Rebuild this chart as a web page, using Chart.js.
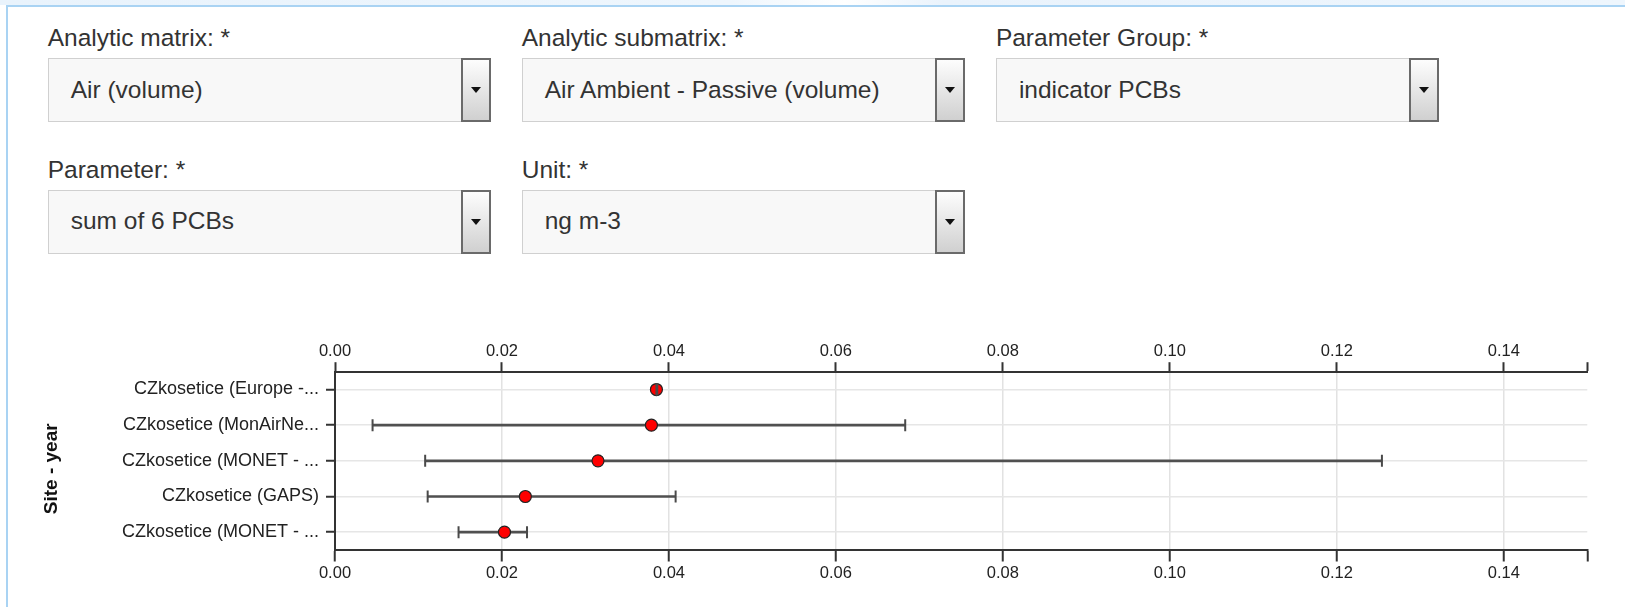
<!DOCTYPE html>
<html>
<head>
<meta charset="utf-8">
<script src="https://cdn.jsdelivr.net/npm/chart.js@4.4.1/dist/chart.umd.min.js"></script>
<style>
html,body{margin:0;padding:0;background:#fff;}
body{width:1625px;height:607px;position:relative;overflow:hidden;font-family:"Liberation Sans",Arial,sans-serif;}
#topband{position:absolute;left:0;top:0;width:1625px;height:5px;background:linear-gradient(to right,#e9f3fc 0%,#eef6fd 45%,#ffffff 52%,#eaf3fc 58%,#eef6fd 100%);}
#topline{position:absolute;left:6px;top:5px;width:1619px;height:2px;background:#a9d3f3;}
#leftline{position:absolute;left:6px;top:5px;width:2px;height:602px;background:#a9d3f3;}
.lbl{position:absolute;font-size:24.5px;line-height:1;color:#333;white-space:nowrap;}
.sel{position:absolute;height:64px;width:443.5px;box-sizing:border-box;border:1px solid #d0d0d0;background:#f8f8f8;}
.sel .val{position:absolute;left:22px;top:0;bottom:0;display:flex;align-items:center;font-size:24.5px;line-height:1;color:#333;white-space:nowrap;}
.sel .btn{position:absolute;right:-1px;top:-1px;bottom:-1px;width:30px;box-sizing:border-box;border:2px solid #6a6a6a;background:linear-gradient(#fdfdfd,#d0d0d0);}
.sel .btn:after{content:"";position:absolute;left:50%;top:50%;margin-left:-5px;margin-top:-3px;border-left:5px solid transparent;border-right:5px solid transparent;border-top:6px solid #111;}
#wrap{position:absolute;left:0;top:300px;width:1625px;height:307px;}
</style>
</head>
<body>
<div id="topband"></div>
<div id="topline"></div>
<div id="leftline"></div>

<div class="lbl" style="left:47.7px;top:26px;">Analytic matrix: *</div>
<div class="lbl" style="left:521.7px;top:26px;">Analytic submatrix: *</div>
<div class="lbl" style="left:995.9px;top:26px;">Parameter Group: *</div>
<div class="sel" style="left:47.7px;top:58px;"><div class="val">Air (volume)</div><div class="btn"></div></div>
<div class="sel" style="left:521.7px;top:58px;"><div class="val">Air Ambient - Passive (volume)</div><div class="btn"></div></div>
<div class="sel" style="left:995.9px;top:58px;"><div class="val">indicator PCBs</div><div class="btn"></div></div>

<div class="lbl" style="left:47.7px;top:157.6px;">Parameter: *</div>
<div class="lbl" style="left:521.7px;top:157.6px;">Unit: *</div>
<div class="sel" style="left:47.7px;top:189.6px;"><div class="val">sum of 6 PCBs</div><div class="btn"></div></div>
<div class="sel" style="left:521.7px;top:189.6px;"><div class="val">ng m-3</div><div class="btn"></div></div>

<div id="wrap"><canvas id="c"></canvas></div>

<script>
const categories = ['CZkosetice (Europe -...', 'CZkosetice (MonAirNe...', 'CZkosetice (MONET - ...', 'CZkosetice (GAPS)', 'CZkosetice (MONET - ...'];
const means = [0.0385, 0.0379, 0.0315, 0.0228, 0.0203];
const lows  = [0.0385, 0.0045, 0.0108, 0.0111, 0.0148];
const highs = [0.0386, 0.0683, 0.1254, 0.0408, 0.0230];
const tickValues = [0, 0.02, 0.04, 0.06, 0.08, 0.10, 0.12, 0.14, 0.15];
const tickLabels = ['0.00', '0.02', '0.04', '0.06', '0.08', '0.10', '0.12', '0.14', ''];
const axisTitle = 'Site - year';

Chart.defaults.font.family = '"Liberation Sans", Arial, sans-serif';

const setTicks = s => { s.ticks = tickValues.map(v => ({value: v})); };
const gridColor = c => (c.tick && c.tick.value >= 0.15) ? 'rgba(0,0,0,0)' : '#e2e2e2';

new Chart(document.getElementById('c'), {
  type: 'bar',
  data: {
    labels: categories,
    datasets: [
      {
        type: 'line', indexAxis: 'y', data: lows, showLine: false,
        pointStyle: 'line', pointRotation: 90, pointRadius: 6, pointHoverRadius: 6,
        pointBorderColor: '#4a4a4a', pointBorderWidth: 2, order: 0
      },
      {
        type: 'line', indexAxis: 'y', data: highs, showLine: false,
        pointStyle: 'line', pointRotation: 90, pointRadius: 6, pointHoverRadius: 6,
        pointBorderColor: '#4a4a4a', pointBorderWidth: 2, order: 0
      },
      {
        type: 'line', indexAxis: 'y', data: means, showLine: false,
        pointStyle: 'circle', pointRadius: 6, pointHoverRadius: 6,
        pointBackgroundColor: '#ff0000', pointBorderColor: '#222', pointBorderWidth: 1.2, order: 1
      },
      {
        type: 'bar', data: lows.map((l, i) => [l, highs[i]]),
        backgroundColor: '#505050', borderWidth: 0, barThickness: 2, order: 2
      }
    ]
  },
  options: {
    indexAxis: 'y',
    responsive: true,
    maintainAspectRatio: false,
    animation: false,
    layout: { padding: { left: 40.3, right: 37.7, top: 0, bottom: 0 } },
    plugins: { legend: { display: false }, tooltip: { enabled: false } },
    scales: {
      x: {
        type: 'linear', position: 'bottom', min: 0, max: 0.15,
        afterBuildTicks: setTicks,
        ticks: { callback: (v, i) => tickLabels[i], font: { size: 16.5 }, color: '#222', padding: 2, maxRotation: 0, autoSkip: false },
        grid: { color: gridColor, lineWidth: 1.5, tickColor: '#333', tickWidth: 2, tickLength: 11.5 },
        border: { color: '#333', width: 2 },
        afterFit: s => { s.height = 57; }
      },
      x2: {
        type: 'linear', position: 'top', min: 0, max: 0.15,
        afterBuildTicks: setTicks,
        ticks: { callback: (v, i) => tickLabels[i], font: { size: 16.5 }, color: '#222', padding: 1, maxRotation: 0, autoSkip: false },
        grid: { drawOnChartArea: false, tickColor: '#333', tickWidth: 2, tickLength: 9.5 },
        border: { color: '#333', width: 2 },
        afterFit: s => { s.height = 71.7; }
      },
      y: {
        type: 'category', position: 'left', offset: true,
        ticks: { font: { size: 18 }, color: '#222', padding: 7, autoSkip: false },
        grid: { offset: false, color: '#e6e6e6', lineWidth: 1.5, tickColor: '#333', tickWidth: 2, tickLength: 9 },
        border: { color: '#333', width: 2 },
        title: { display: true, text: axisTitle + '   ', font: { size: 19, weight: 'bold' }, color: '#111', padding: 0 },
        afterFit: s => { s.width = 294.7; }
      }
    }
  }
});
</script>
</body>
</html>
